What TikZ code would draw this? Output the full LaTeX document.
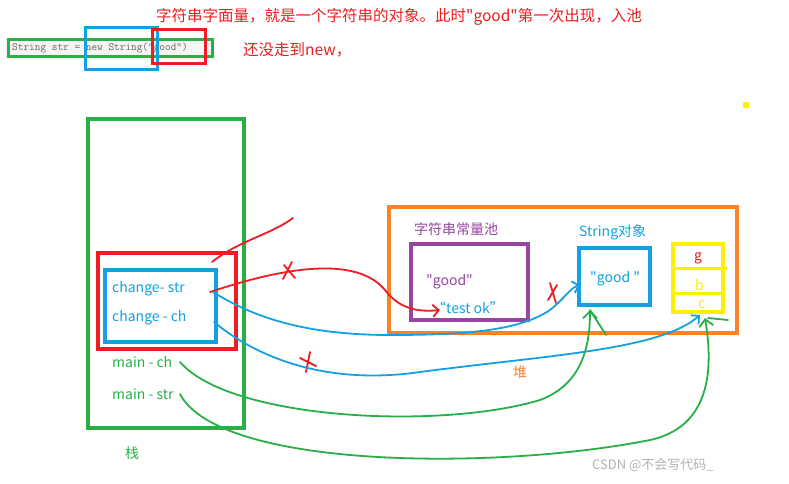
\documentclass[tikz,border=0pt]{standalone}
\usepackage{fontspec}
\setmainfont{Noto Sans}
\newfontfamily\cjk{Noto Sans CJK SC}
\usetikzlibrary{arrows.meta}
\definecolor{cr}{RGB}{235,30,35}
\definecolor{cg}{RGB}{40,175,70}
\definecolor{cb}{RGB}{20,160,225}
\definecolor{co}{RGB}{250,130,40}
\definecolor{cp}{RGB}{150,70,160}
\definecolor{cy}{RGB}{250,240,0}
\tikzset{
 frame/.style={draw,line width=3.5pt},
 lbl/.style={inner sep=0pt,anchor=west,font=\cjk\fontsize{14}{16}\selectfont},
 pen/.style={line width=1.8pt,line cap=round},
 cross/.style={pen,cr},
}
\begin{document}
\begin{tikzpicture}[x=1pt,y=-1pt]
\useasboundingbox[fill=white] (0,0) rectangle (789,484);
% code line
\fill[gray!8] (5,38) rectangle (215,60);
\node[lbl,anchor=west,font=\ttfamily\fontsize{11}{13}\selectfont,text=gray!80!black] (code) at (12,48) {String str = new String("good")};
\draw[frame,cg,line width=3pt] (8,40) rectangle (212,57);
\draw[frame,cb,line width=3pt] (85,28) rectangle (157,70);
\draw[frame,cr,line width=3pt] (152,30) rectangle (205,64);
\node[lbl,text=cr,font=\cjk\fontsize{15.5}{17}\selectfont] (t1) at (156,17) {字符串字面量，就是一个字符串的对象。此时"good"第一次出现，入池};
\node[lbl,text=cr,font=\cjk\fontsize{15.5}{17}\selectfont] (t2) at (243,50) {还没走到new，};
\fill[cy] (743,102) rectangle (749,108);
% stack
\draw[frame,cg] (88,119) rectangle (244,428);
\node[lbl,text=cg] (zhan) at (125,453) {栈};
\draw[frame,cr] (98,253) rectangle (236,349);
\draw[frame,cb] (105,270) rectangle (216,342);
\node[lbl,text=cb] (cs) at (112,289) {change- str};
\node[lbl,text=cb] (cc) at (112,318) {change - ch};
\node[lbl,text=cg] (mc) at (112,362) {main - ch};
\node[lbl,text=cg] (ms) at (112,394) {main - str};
% heap
\draw[frame,co] (389,207) rectangle (737,333);
\node[lbl,text=co] (dui) at (513,372) {堆};
\node[lbl,text=cp] (pool) at (414,229) {字符串常量池};
\draw[frame,cp] (411,244) rectangle (528,320);
\node[lbl,text=cp] (g1) at (426,282) {"good"};
\node[lbl,text=cb] (tok) at (432,308) {“test ok”};
\node[lbl,text=cb] (so) at (579,232) {String对象};
\draw[frame,cb] (579,248) rectangle (650,305);
\node[lbl,text=cb] (g2) at (590,279) {"good "};
\draw[frame,cy] (673,244) rectangle (723,312);
\draw[line width=3pt,cy] (673,268) -- (727,268) (673,293) -- (723,293);
\node[lbl,text=cr] (cg1) at (694,258) {g};
\node[lbl,text=cy] (cb1) at (695,285) {b};
\node[lbl,text=cy] (cc1) at (698,305) {c};
% red strokes
\draw[pen,cr] (212,262) .. controls (240,240) and (270,235) .. (293,218);
\draw[pen,cr,-{Straight Barb[length=6pt]}] (210,292) .. controls (300,262) and (360,260) .. (385,290) .. controls (400,310) and (420,312) .. (440,310);
\draw[cross] (284,265) -- (295,278) (292,262) -- (283,279);
\draw[cross] (550,283) -- (556,303) (557,285) -- (548,300);
\draw[cross] (300,358) -- (316,366) (310,352) -- (306,372);
% blue strokes
\draw[pen,cb,-{Straight Barb[length=6pt]}] (213,292) .. controls (250,315) and (300,335) .. (390,335) .. controls (470,335) and (520,330) .. (550,310) .. controls (565,298) and (570,288) .. (580,285);
\draw[pen,cb,-{Straight Barb[length=6pt]}] (214,322) .. controls (260,360) and (330,385) .. (420,372) .. controls (550,355) and (660,350) .. (700,315);
% green strokes
\draw[pen,cg,-{Straight Barb[length=7pt]}] (180,362) .. controls (230,420) and (440,430) .. (540,400) .. controls (580,385) and (590,350) .. (590,310);
\draw[pen,cg] (590,310) -- (606,335);
\draw[pen,cg,-{Straight Barb[length=7pt]}] (180,394) .. controls (220,470) and (500,470) .. (650,440) .. controls (720,425) and (710,350) .. (705,318);
\draw[pen,cg] (708,318) -- (728,320);
\node[lbl,text=gray!60,font=\cjk\fontsize{13}{15}\selectfont] (csdn) at (592,465) {CSDN @不会写代码\_};
\end{tikzpicture}
\end{document}
